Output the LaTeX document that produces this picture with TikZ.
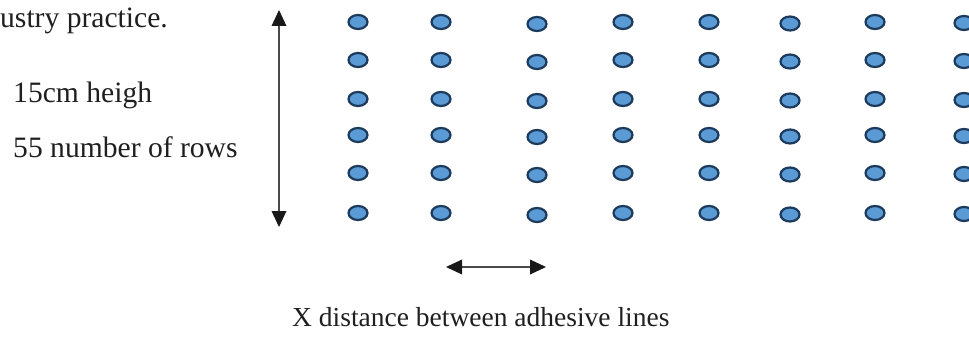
\documentclass[tikz,border=0pt]{standalone}
\usepackage{fontspec}
\setmainfont{Liberation Serif}
\usetikzlibrary{shapes.geometric,arrows.meta}
\definecolor{dotfill}{HTML}{5B9BD5}
\definecolor{dotline}{HTML}{1B3A5C}
\definecolor{arrowgray}{HTML}{4A4A4A}
\tikzset{
  dot/.style={ellipse, draw=dotline, fill=dotfill, line width=2.2pt,
    minimum width=19pt, minimum height=14pt, inner sep=0pt},
  label/.style={anchor=base west, inner sep=0pt, font=\fontsize{29.6}{34}\selectfont, text=black!88},
  dimtip/.tip={Triangle[length=16pt,width=15pt,fill=black!90,line width=0pt]},
  dimarrow/.style={draw=arrowgray, line width=1.3pt, dimtip-dimtip}
}
\begin{document}
\begin{tikzpicture}[x=1pt,y=-1pt]
  \useasboundingbox (0,0) rectangle (969,337);

  % text on the left
  \node[label] (t1) at (0,28) {ustry practice.};
  \node[label] (t2) at (13,102) {15cm heigh};
  \node[label] (t3) at (13,157) {55 number of rows};
  \node[label, font=\fontsize{27.5}{33}\selectfont] (t4) at (292,326) {X distance between adhesive lines};

  % height arrow
  \coordinate (vtop) at (279,10);
  \coordinate (vbot) at (279,227);
  \draw[dimarrow] (vtop) -- (vbot);

  % spacing arrow
  \coordinate (hl) at (446,267);
  \coordinate (hr) at (546,267);
  \draw[dimarrow] (hl) -- (hr);

  % grid of adhesive dots: column x / vertical shift
  \foreach \c/\x/\d in {1/358/0, 2/441/0, 3/537/2, 4/623/0, 5/709/0, 6/790/1.5, 7/875/0, 8/964/1}{
    \foreach \r/\y in {1/22, 2/60, 3/99, 4/135, 5/173, 6/213}{
      \node[dot] (d\c-\r) at (\x,\y+\d) {};
    }
  }
\end{tikzpicture}
\end{document}
